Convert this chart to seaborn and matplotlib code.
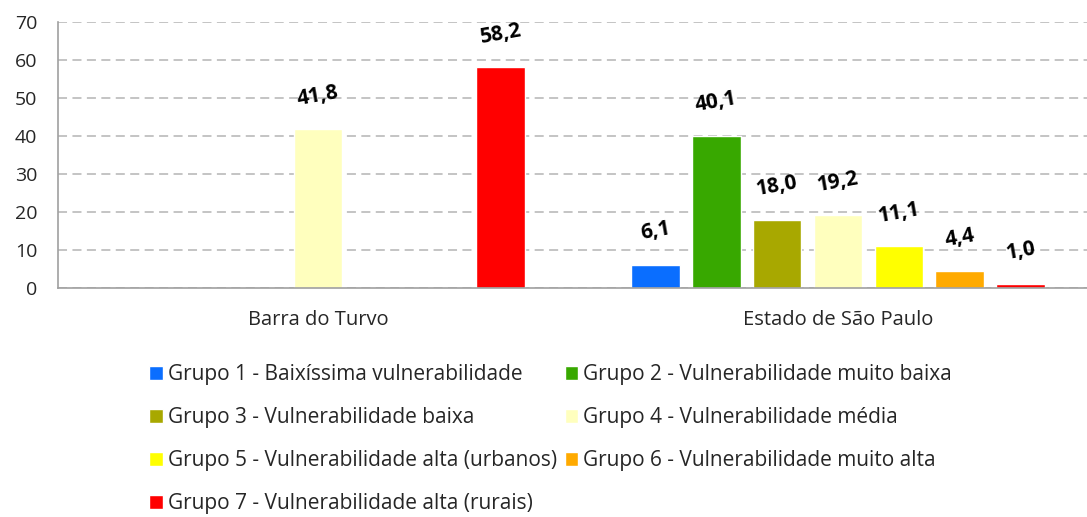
import numpy as np
import pandas as pd
import matplotlib
matplotlib.use("Agg")
import matplotlib.pyplot as plt
import seaborn as sns

# dados
locais = ["Barra do Turvo", "Estado de São Paulo"]
grupos = [
    "Grupo 1 - Baixíssima vulnerabilidade",
    "Grupo 2 - Vulnerabilidade muito baixa",
    "Grupo 3 - Vulnerabilidade baixa",
    "Grupo 4 - Vulnerabilidade média",
    "Grupo 5 - Vulnerabilidade alta (urbanos)",
    "Grupo 6 - Vulnerabilidade muito alta",
    "Grupo 7 - Vulnerabilidade alta (rurais)",
]
barra_do_turvo = [np.nan, np.nan, np.nan, 41.8, np.nan, np.nan, 58.2]
estado_sp = [6.1, 40.1, 18.0, 19.2, 11.1, 4.4, 1.0]
cores = ["#0A6EFF", "#38A800", "#A8A800", "#FFFFBE", "#FFFF00", "#FFAA00", "#FF0000"]
yticks = [0, 10, 20, 30, 40, 50, 60, 70]

df = pd.DataFrame({
    "local": [locais[0]] * 7 + [locais[1]] * 7,
    "grupo": grupos * 2,
    "valor": barra_do_turvo + estado_sp,
})

sns.set_style("white")
plt.rcParams["font.family"] = ["Open Sans", "DejaVu Sans"]

fig = plt.figure(figsize=(10.87, 5.17), dpi=100)
ax = fig.add_axes([58 / 1087, 1 - 288 / 517, 1040 / 1087, 266 / 517])

sns.barplot(data=df, x="local", y="valor", hue="grupo", hue_order=grupos,
            palette=cores, width=0.82, gap=0.2, saturation=1, ax=ax,
            errorbar=None, legend=True)

# rotulos de valor
for p in ax.patches:
    h = p.get_height()
    if h is None or np.isnan(h) or h == 0:
        continue
    ax.annotate(f"{h:.1f}".replace(".", ","), (p.get_x() + p.get_width() / 2, h),
                xytext=(0, 24), textcoords="offset points", ha="center", va="center",
                rotation=10, fontsize=15, fontweight="bold", color="black")

ax.set_xlim(-0.5, 1.5)
ax.set_ylim(0, 70)
ax.set_yticks(yticks)
ax.tick_params(axis="y", length=0, pad=15, labelsize=14)
ax.tick_params(axis="x", which="major", length=0, pad=16, labelsize=14.5)
ax.set_xticks([-0.5, 0.5, 1.5], minor=True)
ax.tick_params(axis="x", which="minor", length=6, color="#A0A0A0", direction="out")
ax.set_xlabel("")
ax.set_ylabel("")

ax.yaxis.grid(True, linestyle=(0, (5, 3)), color="#BFBFBF", lw=1.3)
ax.set_axisbelow(True)
for s in ["top", "right"]:
    ax.spines[s].set_visible(False)
for s in ["left", "bottom"]:
    ax.spines[s].set_color("#A0A0A0")
    ax.spines[s].set_linewidth(1.2)

# legenda em duas colunas, preenchida por linha
handles, labels = ax.get_legend_handles_labels()
ordem = [0, 2, 4, 6, 1, 3, 5]
ax.legend([handles[i] for i in ordem], [labels[i] for i in ordem],
          ncol=2, frameon=False, fontsize=15,
          loc="upper left", bbox_to_anchor=(141 / 1087, 1 - 356 / 517),
          bbox_transform=fig.transFigure,
          handlelength=0.65, handleheight=0.65, handletextpad=0.25,
          labelspacing=1.05, columnspacing=0.35, borderaxespad=0)

fig.savefig("out.png", dpi=100)
